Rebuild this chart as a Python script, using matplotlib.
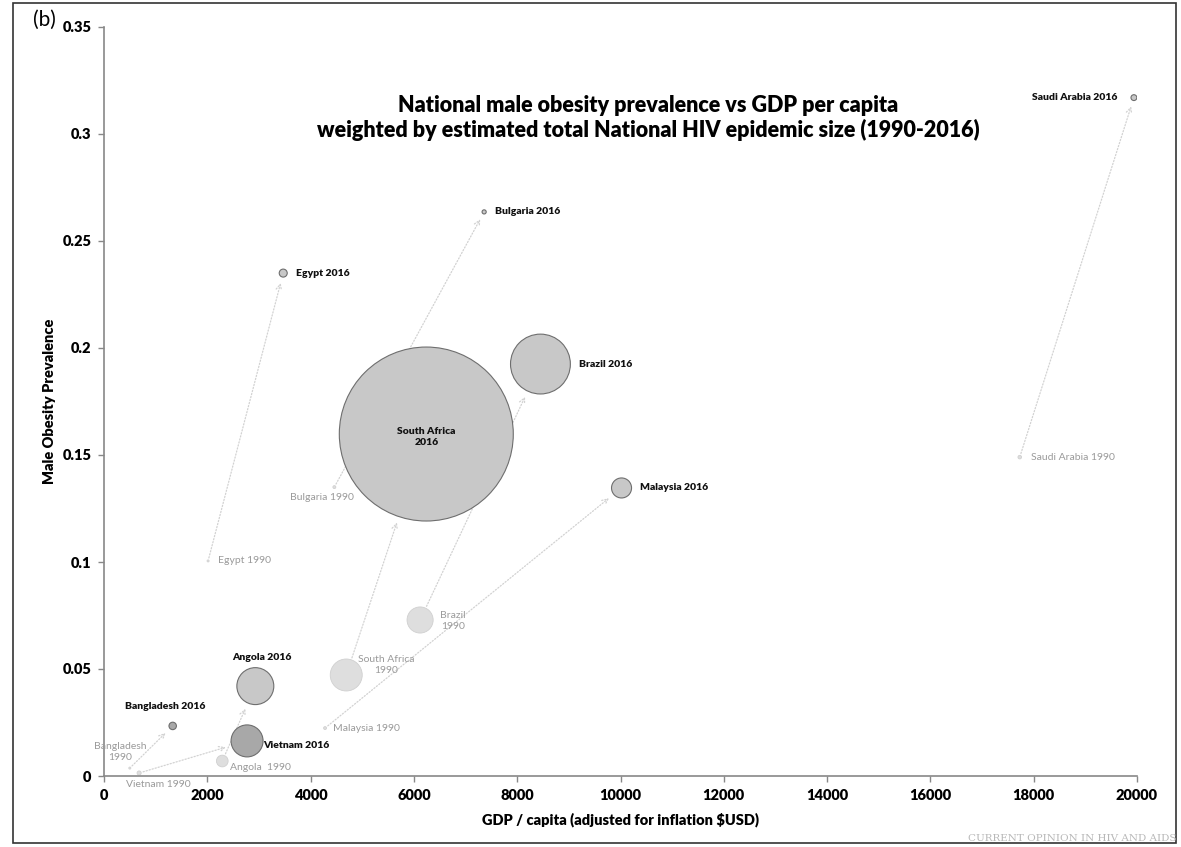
import numpy as np
import matplotlib.pyplot as plt
from matplotlib.patches import Rectangle

plt.rcParams['font.family'] = ['Lato', 'DejaVu Sans']

# data (HIV epidemic size in thousands)
countries = ["Saudi Arabia", "Bulgaria", "Egypt", "South Africa", "Brazil",
             "Malaysia", "Angola", "Vietnam", "Bangladesh"]
gdp_1990 = [17730, 4460, 2015, 4690, 6120, 4280, 2290, 680, 500]
obesity_1990 = [0.149, 0.135, 0.1005, 0.0472, 0.0729, 0.0224, 0.0070, 0.0014, 0.0037]
hiv_1990 = [3, 2, 1, 240, 160, 2, 32, 4, 1]
gdp_2016 = [19940, 7360, 3470, 6240, 8450, 10020, 2930, 2770, 1330]
obesity_2016 = [0.317, 0.2636, 0.235, 0.1598, 0.1925, 0.1346, 0.042, 0.0164, 0.0234]
hiv_2016 = [8, 4, 15, 7100, 840, 94, 320, 240, 13]

x_ticks = [0, 2000, 4000, 6000, 8000, 10000, 12000, 14000, 16000, 18000, 20000]
y_ticks = [0, 0.05, 0.1, 0.15, 0.2, 0.25, 0.3, 0.35]
y_tick_labels = ["0", "0.05", "0.1", "0.15", "0.2", "0.25", "0.3", "0.35"]

# label placement (offset pixels, ha)
lab_1990 = {
    "Saudi Arabia": ("Saudi Arabia 1990", 11, 0, "left"),
    "Bulgaria": ("Bulgaria 1990", -12, -10, "center"),
    "Egypt": ("Egypt 1990", 10, 0, "left"),
    "South Africa": ("South Africa\n1990", 40, 10, "center"),
    "Brazil": ("Brazil\n1990", 33, -1, "center"),
    "Malaysia": ("Malaysia 1990", 8, 0, "left"),
    "Angola": ("Angola  1990", 8, -6, "left"),
    "Vietnam": ("Vietnam 1990", 19, -11, "center"),
    "Bangladesh": ("Bangladesh\n1990", -10, 16, "center"),
}
lab_2016 = {
    "Saudi Arabia": ("Saudi Arabia 2016", -17, 0, "right"),
    "Bulgaria": ("Bulgaria 2016", 11, 0, "left"),
    "Egypt": ("Egypt 2016", 13, 0, "left"),
    "South Africa": ("South Africa\n2016", 0, -3, "center"),
    "Brazil": ("Brazil 2016", 39, 0, "left"),
    "Malaysia": ("Malaysia 2016", 18, 0, "left"),
    "Angola": ("Angola 2016", 6, 29, "center"),
    "Vietnam": ("Vietnam 2016", 16, -5, "left"),
    "Bangladesh": ("Bangladesh 2016", -8, 19, "center"),
}
fill_2016 = {"Vietnam": "#a8a8a8", "Bangladesh": "#a8a8a8"}

size_factor = 2.21
s90 = np.array(hiv_1990) * size_factor
s16 = np.array(hiv_2016) * size_factor

fig = plt.figure(figsize=(11.81, 8.47), dpi=100)
ax = fig.add_axes([104 / 1181, 1 - 776 / 847, (1137 - 104) / 1181, (776 - 27) / 847])

for i, c in enumerate(countries):
    r90 = np.sqrt(s90[i]) / 2
    r16 = np.sqrt(s16[i]) / 2
    ax.annotate("", xy=(gdp_2016[i], obesity_2016[i]), xytext=(gdp_1990[i], obesity_1990[i]),
                arrowprops=dict(arrowstyle="->", linestyle=(0, (1, 1.5)), color="#d2d2d2", lw=0.9,
                                shrinkA=r90 + 1.5, shrinkB=r16 + 4.5),
                zorder=1)

ax.scatter(gdp_1990, obesity_1990, s=s90, color="#dedede", edgecolor="#d0d0d0",
           linewidth=0.6, zorder=2)
cols16 = [fill_2016.get(c, "#c8c8c8") for c in countries]
ax.scatter(gdp_2016, obesity_2016, s=s16, color=cols16, edgecolor="#6e6e6e",
           linewidth=0.8, zorder=3)

for i, c in enumerate(countries):
    t, dx, dy, ha = lab_1990[c]
    ax.annotate(t, (gdp_1990[i], obesity_1990[i]), xytext=(dx, dy), textcoords="offset pixels",
                ha=ha, va="center", fontsize=7.5, color="#9a9a9a", annotation_clip=False,
                zorder=4, linespacing=1.2)
    t, dx, dy, ha = lab_2016[c]
    ax.annotate(t, (gdp_2016[i], obesity_2016[i]), xytext=(dx, dy), textcoords="offset pixels",
                ha=ha, va="center", fontsize=7.5, color="#111111", fontweight="heavy",
                annotation_clip=False, zorder=4, linespacing=1.2)

ax.set_xlim(0, 20000)
ax.set_ylim(0, 0.35)
ax.set_xticks(x_ticks)
ax.set_xticklabels([str(v) for v in x_ticks], fontweight="heavy")
ax.set_yticks(y_ticks)
ax.set_yticklabels(y_tick_labels, fontweight="heavy")
ax.tick_params(length=4, width=1, color="#888888", labelsize=10.5, pad=5)
for sp in ["top", "right"]:
    ax.spines[sp].set_visible(False)
for sp in ["left", "bottom"]:
    ax.spines[sp].set_color("#888888")
    ax.spines[sp].set_linewidth(1.2)

ax.set_xlabel("GDP / capita (adjusted for inflation $USD)", fontsize=10.5, fontweight="heavy", labelpad=8)
ax.set_ylabel("Male Obesity Prevalence", fontsize=10.5, fontweight="heavy", labelpad=5)

ax.text(10540, 0.3075, "National male obesity prevalence vs GDP per capita\n"
        "weighted by estimated total National HIV epidemic size (1990-2016)",
        ha="center", va="center", fontsize=15.5, fontweight="heavy", linespacing=1.2)

fig.text(33 / 1181, 1 - 20 / 847, "(b)", fontsize=15, va="center", ha="left")
fig.text(1177 / 1181, 1 - 838 / 847, "CURRENT OPINION IN HIV AND AIDS", fontsize=7.5,
         family="DejaVu Serif", color="#b8b8b8", ha="right", va="center")
fig.patches.append(Rectangle((13 / 1181, 1 - 843 / 847), (1176 - 13) / 1181, (843 - 3) / 847,
                             transform=fig.transFigure, fill=False, lw=1.2, ec="#333333"))

fig.savefig("out.png", dpi=100)
